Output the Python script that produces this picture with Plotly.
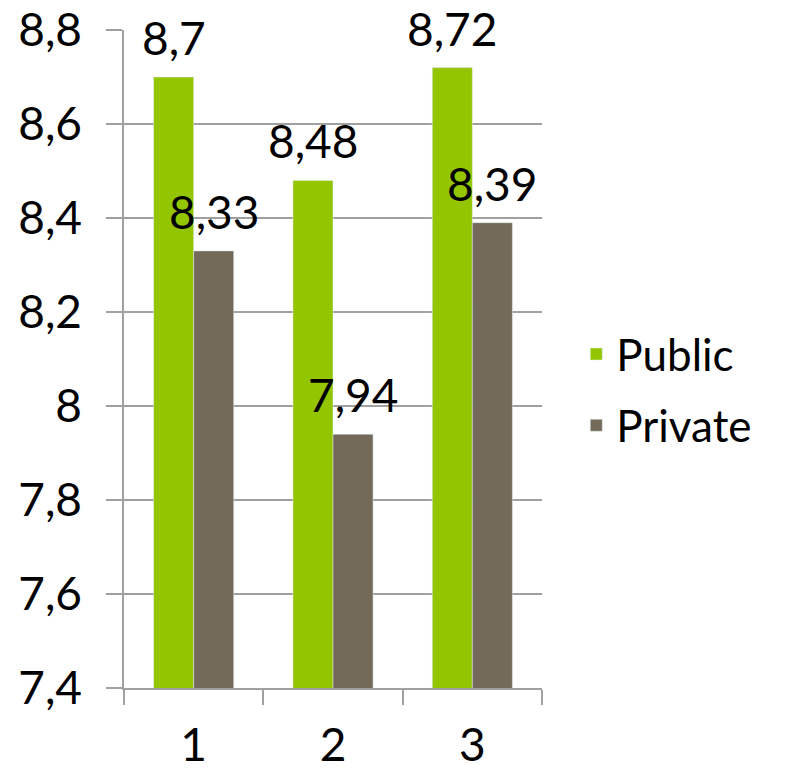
import plotly.graph_objects as go

# Chart values
categories = ["1", "2", "3"]
public = [8.7, 8.48, 8.72]
private = [8.33, 7.94, 8.39]
y_ticks = [7.4, 7.6, 7.8, 8.0, 8.2, 8.4, 8.6, 8.8]

font_family = "Lato, 'Open Sans', sans-serif"
grid_col = "#A0A0A0"
green = "#93C500"
brown = "#736A5A"

fig = go.Figure()
fig.add_trace(go.Bar(x=categories, y=public, name="Public",
                     marker_color=green, legendgroup="pub"))
fig.add_trace(go.Bar(x=categories, y=private, name="Private",
                     marker_color=brown, legendgroup="priv"))

# value labels above each bar (category index, shifted onto its bar)
for vals, shift in [(public, -20), (private, 20)]:
    for i, v in enumerate(vals):
        fig.add_annotation(x=i, y=v, text=str(v).replace(".", ","),
                           showarrow=False, xshift=shift, yshift=10,
                           yanchor="bottom", font=dict(size=46, color="black"))

# page body has an 8px margin, so the figure is a bit smaller than the window
fig.update_layout(
    width=779, height=762,
    barmode="group", bargap=0.425, bargroupgap=0,
    separators=", ",
    plot_bgcolor="white", paper_bgcolor="white",
    font=dict(family=font_family, size=46, color="black"),
    margin=dict(l=116, r=245, t=22, b=82, autoexpand=False),
    legend=dict(x=1.082, y=0.453, yanchor="middle", xanchor="left",
                font=dict(size=44), itemwidth=30, tracegroupgap=11),
)
fig.update_xaxes(
    type="category", automargin=False, range=[-0.5, 2.5],
    showline=True, linecolor=grid_col, linewidth=1.5,
    ticks="outside", tickson="boundaries", ticklen=15, tickcolor=grid_col,
    tickwidth=1.5, showgrid=False, ticklabelstandoff=16,
)
fig.update_yaxes(
    automargin=False, ticklabeloverflow="allow",
    range=[7.4, 8.8], tickvals=y_ticks,
    showline=True, linecolor=grid_col, linewidth=1.5,
    ticks="outside", ticklen=16, tickcolor=grid_col, tickwidth=1.5,
    showgrid=True, gridcolor=grid_col, gridwidth=1.5, zeroline=False,
    ticklabelstandoff=15,
)

fig.write_html("out.html")
